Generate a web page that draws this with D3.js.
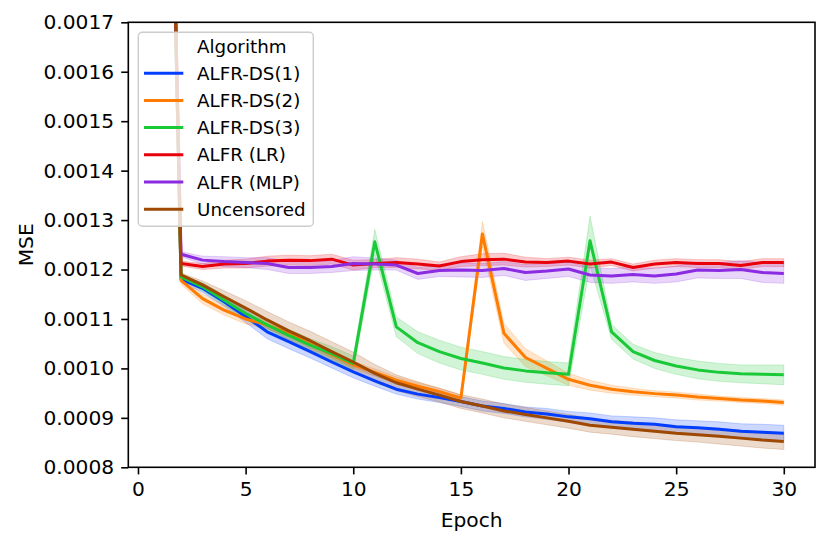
<!DOCTYPE html>
<html>
<head>
<meta charset="utf-8">
<script src="https://cdn.jsdelivr.net/npm/d3@7/dist/d3.min.js"></script>
<style>
  html, body { margin: 0; padding: 0; background: #fff; }
  svg { display: block; font-family: "DejaVu Sans", sans-serif; }
</style>
</head>
<body>
<svg id="chart" width="830" height="545"></svg>
<script>
const epochs = [1,2,3,4,5,6,7,8,9,10,11,12,13,14,15,16,17,18,19,20,21,22,23,24,25,26,27,28,29,30];

const seriesNames = ["ALFR-DS(1)", "ALFR-DS(2)", "ALFR-DS(3)", "ALFR (LR)", "ALFR (MLP)", "Uncensored"];
const seriesColors = ["#023eff", "#ff7c00", "#1ac938", "#e8000b", "#8b2be2", "#9f4800"];

const ds1 = [0.00320, 0.001180, 0.001162, 0.001135, 0.001105, 0.001074, 0.001054, 0.001034, 0.001013, 0.000993, 0.000975, 0.000958, 0.000948, 0.000941, 0.000933, 0.000924, 0.000919, 0.000912, 0.000908, 0.000902, 0.000898, 0.000892, 0.000889, 0.000887, 0.000882, 0.000880, 0.000877, 0.000873, 0.000871, 0.000869];
const ds2 = [0.00322, 0.001178, 0.001141, 0.001118, 0.001100, 0.001088, 0.001071, 0.001049, 0.001028, 0.001007, 0.000992, 0.000976, 0.000964, 0.000953, 0.000940, 0.001272, 0.001071, 0.001022, 0.001000, 0.000978, 0.000966, 0.000958, 0.000953, 0.000949, 0.000946, 0.000942, 0.000939, 0.000936, 0.000934, 0.000931];
const ds3 = [0.00318, 0.001185, 0.001165, 0.001138, 0.001111, 0.001088, 0.001067, 0.001047, 0.001030, 0.001010, 0.001256, 0.001084, 0.001052, 0.001034, 0.001020, 0.001011, 0.001001, 0.000995, 0.000991, 0.000988, 0.001258, 0.001074, 0.001034, 0.001016, 0.001005, 0.000997, 0.000992, 0.000989, 0.000988, 0.000987];
const alfrLR = [0.00321, 0.001212, 0.001206, 0.001211, 0.001212, 0.001217, 0.001219, 0.001218, 0.001221, 0.001209, 0.001212, 0.001214, 0.001211, 0.001207, 0.001216, 0.001220, 0.001221, 0.001215, 0.001214, 0.001217, 0.001211, 0.001215, 0.001204, 0.001211, 0.001214, 0.001212, 0.001212, 0.001208, 0.001214, 0.001214];
const alfrMLP = [0.00319, 0.001231, 0.001219, 0.001216, 0.001214, 0.001212, 0.001204, 0.001204, 0.001206, 0.001212, 0.001211, 0.001209, 0.001192, 0.001198, 0.001199, 0.001198, 0.001202, 0.001194, 0.001197, 0.001201, 0.001189, 0.001187, 0.001190, 0.001187, 0.001191, 0.001199, 0.001198, 0.001200, 0.001194, 0.001192];
const uncensored = [0.00323, 0.001189, 0.001169, 0.001145, 0.001122, 0.001098, 0.001076, 0.001056, 0.001034, 0.001013, 0.000990, 0.000971, 0.000958, 0.000946, 0.000933, 0.000924, 0.000914, 0.000907, 0.000900, 0.000893, 0.000885, 0.000881, 0.000877, 0.000873, 0.000869, 0.000866, 0.000863, 0.000859, 0.000855, 0.000852];

// confidence-band half widths
const ds1Ci = [0.0001, 0.000006, 0.000008, 0.000010, 0.000012, 0.000014, 0.000014, 0.000013, 0.000012, 0.000012, 0.000011, 0.000010, 0.000010, 0.000010, 0.000010, 0.000010, 0.000010, 0.000010, 0.000011, 0.000011, 0.000012, 0.000012, 0.000013, 0.000013, 0.000014, 0.000014, 0.000015, 0.000015, 0.000016, 0.000016];
const ds2Ci = [0.0001, 0.000008, 0.000010, 0.000010, 0.000010, 0.000008, 0.000007, 0.000007, 0.000007, 0.000007, 0.000007, 0.000007, 0.000007, 0.000007, 0.000006, 0.000025, 0.000020, 0.000018, 0.000015, 0.000012, 0.000010, 0.000008, 0.000007, 0.000006, 0.000006, 0.000006, 0.000005, 0.000005, 0.000005, 0.000005];
const ds3Ci = [0.0001, 0.000005, 0.000008, 0.000010, 0.000012, 0.000012, 0.000012, 0.000013, 0.000014, 0.000015, 0.000025, 0.000020, 0.000022, 0.000023, 0.000023, 0.000023, 0.000023, 0.000023, 0.000023, 0.000023, 0.000050, 0.000015, 0.000015, 0.000016, 0.000017, 0.000018, 0.000018, 0.000018, 0.000019, 0.000020];
const alfrLRCi = [0.0001, 0.000005, 0.000006, 0.000008, 0.000009, 0.000010, 0.000010, 0.000010, 0.000010, 0.000010, 0.000008, 0.000010, 0.000010, 0.000008, 0.000010, 0.000012, 0.000012, 0.000010, 0.000008, 0.000008, 0.000008, 0.000007, 0.000007, 0.000008, 0.000008, 0.000008, 0.000008, 0.000008, 0.000008, 0.000008];
const alfrMLPCi = [0.0001, 0.000005, 0.000008, 0.000010, 0.000010, 0.000012, 0.000012, 0.000012, 0.000012, 0.000014, 0.000012, 0.000010, 0.000012, 0.000012, 0.000014, 0.000014, 0.000014, 0.000016, 0.000015, 0.000015, 0.000015, 0.000015, 0.000015, 0.000015, 0.000016, 0.000016, 0.000016, 0.000018, 0.000020, 0.000020];
const uncensoredCi = [0.0001, 0.000004, 0.000008, 0.000012, 0.000015, 0.000017, 0.000018, 0.000019, 0.000020, 0.000020, 0.000018, 0.000016, 0.000015, 0.000014, 0.000014, 0.000014, 0.000014, 0.000014, 0.000014, 0.000014, 0.000014, 0.000014, 0.000015, 0.000015, 0.000015, 0.000015, 0.000016, 0.000016, 0.000016, 0.000016];

const xTicks = [0, 5, 10, 15, 20, 25, 30];
const yTicks = [0.0008, 0.0009, 0.0010, 0.0011, 0.0012, 0.0013, 0.0014, 0.0015, 0.0016, 0.0017];
const xLabel = "Epoch";
const yLabel = "MSE";
const legendTitle = "Algorithm";

const seriesValues = [ds1, ds2, ds3, alfrLR, alfrMLP, uncensored];
const seriesCis = [ds1Ci, ds2Ci, ds3Ci, alfrLRCi, alfrMLPCi, uncensoredCi];

const FS = 20.2;      // tick & axis labels
const LFS = 18.3;     // legend
const TK = 7.1;
const pL = 128.3, pR = 815, pT = 22.3, pB = 467.3;

const svg = d3.select("#chart");
const x = d3.scaleLinear().domain([-0.45, 31.45]).range([pL, pR]);
const y = d3.scaleLinear().domain([0.0008, 0.0017]).range([pB, pT]);

svg.append("defs").append("clipPath").attr("id", "clip")
  .append("rect").attr("x", pL).attr("y", pT).attr("width", pR - pL).attr("height", pB - pT);

const plot = svg.append("g").attr("clip-path", "url(#clip)");

const data = seriesValues.map((vals, i) => epochs.map((e, j) => ({e, v: vals[j], lo: vals[j] - seriesCis[i][j], hi: vals[j] + seriesCis[i][j]})));

const area = d3.area().x(d => x(d.e)).y0(d => y(d.lo)).y1(d => y(d.hi));
const line = d3.line().x(d => x(d.e)).y(d => y(d.v));

data.forEach((d, i) => {
  plot.append("path").attr("d", area(d)).attr("fill", seriesColors[i]).attr("fill-opacity", 0.2)
    .attr("stroke", seriesColors[i]).attr("stroke-opacity", 0.2).attr("stroke-width", 1);
});
data.forEach((d, i) => {
  plot.append("path").attr("d", line(d)).attr("fill", "none").attr("stroke", seriesColors[i])
    .attr("stroke-width", 3).attr("stroke-linejoin", "round").attr("stroke-linecap", "butt");
});

// axes
const xAxis = svg.append("g").attr("transform", `translate(0,${pB})`)
  .call(d3.axisBottom(x).tickValues(xTicks).tickFormat(d3.format("d")).tickSize(TK).tickPadding(TK));
const yAxis = svg.append("g").attr("transform", `translate(${pL},0)`)
  .call(d3.axisLeft(y).tickValues(yTicks).tickFormat(d3.format(".4f")).tickSize(TK).tickPadding(TK));
[xAxis, yAxis].forEach(a => {
  a.select(".domain").remove();
  a.selectAll("line").attr("stroke", "#000").attr("stroke-width", 1.6);
  a.selectAll("text").attr("font-size", FS).attr("font-family", "DejaVu Sans").attr("fill", "#000");
});

// frame
svg.append("rect").attr("x", pL).attr("y", pT).attr("width", pR - pL).attr("height", pB - pT)
  .attr("fill", "none").attr("stroke", "#000").attr("stroke-width", 1.6);

svg.append("text").attr("x", (pL + pR) / 2).attr("y", 527).attr("text-anchor", "middle")
  .attr("font-size", FS).text(xLabel);
svg.append("text").attr("transform", `translate(33,${(pT + pB) / 2}) rotate(-90)`)
  .attr("text-anchor", "middle").attr("font-size", FS).text(yLabel);

// legend
const lg = svg.append("g");
lg.append("rect").attr("x", 138.3).attr("y", 32.3).attr("width", 175).attr("height", 194)
  .attr("rx", 4).attr("fill", "#fff").attr("fill-opacity", 0.8).attr("stroke", "#cccccc").attr("stroke-width", 1.4);
const rowY = [46, 73.3, 100.5, 127.6, 154.8, 182, 209.2];
lg.append("text").attr("x", 197).attr("y", rowY[0]).attr("dy", "0.36em").attr("font-size", LFS).text(legendTitle);
seriesNames.forEach((n, i) => {
  const yy = rowY[i + 1];
  lg.append("line").attr("x1", 144).attr("x2", 183.3).attr("y1", yy).attr("y2", yy)
    .attr("stroke", seriesColors[i]).attr("stroke-width", 3);
  lg.append("text").attr("x", 197).attr("y", yy).attr("dy", "0.36em").attr("font-size", LFS).text(n);
});
</script>
</body>
</html>
